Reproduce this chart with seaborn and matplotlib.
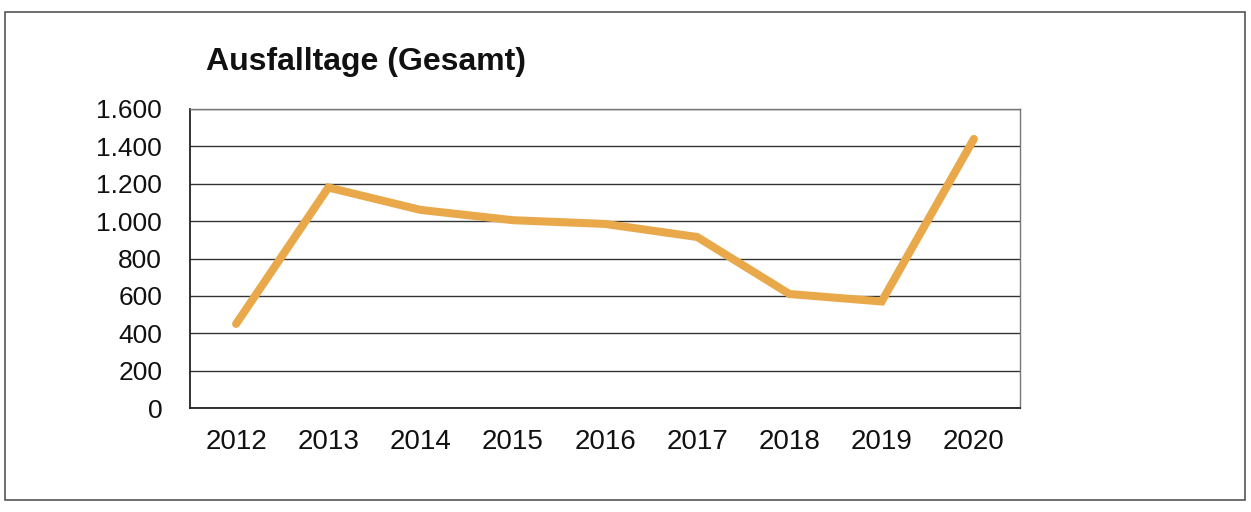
import matplotlib
matplotlib.use("Agg")
import matplotlib.pyplot as plt
import seaborn as sns
import pandas as pd
import numpy as np
from matplotlib.patches import Rectangle

# ---- data ----
years = ["2012", "2013", "2014", "2015", "2016", "2017", "2018", "2019", "2020"]
ausfalltage = [450, 1180, 1060, 1005, 985, 915, 610, 570, 1440]
y_ticks = [0, 200, 400, 600, 800, 1000, 1200, 1400, 1600]
y_labels = ["0", "200", "400", "600", "800", "1.000", "1.200", "1.400", "1.600"]
title = "Ausfalltage (Gesamt)"

sns.set_style("white")
plt.rcParams["font.family"] = ["Liberation Sans", "DejaVu Sans"]

W, H = 1251, 512
fig = plt.figure(figsize=(W / 100, H / 100), dpi=100)
fig.patch.set_facecolor("white")

# outer frame of the scanned chart
fig.add_artist(Rectangle((5 / W, 1 - 500 / H), 1240 / W, 488 / H,
                         transform=fig.transFigure, fill=False,
                         edgecolor="#555555", linewidth=1.2))

ax = fig.add_axes([190 / W, 1 - 408 / H, 830 / W, 299 / H])

df = pd.DataFrame({"Jahr": years, "Ausfalltage": ausfalltage})
sns.lineplot(data=df, x="Jahr", y="Ausfalltage", ax=ax, color="#E9A94B",
             linewidth=5.8, solid_capstyle="round", solid_joinstyle="miter",
             sort=False, zorder=3)

ax.set_xlim(-0.5, len(years) - 0.5)
ax.set_ylim(0, 1600)
ax.set_yticks(y_ticks)
ax.set_yticklabels(y_labels)
ax.set_xlabel("")
ax.set_ylabel("")

# gridlines
ax.yaxis.grid(True, color="#333333", linewidth=1.0)
ax.xaxis.grid(False)
ax.set_axisbelow(True)

# spines
for s in ["left", "bottom"]:
    ax.spines[s].set_color("#222222")
    ax.spines[s].set_linewidth(1.3)
for s in ["top", "right"]:
    ax.spines[s].set_color("#777777")
    ax.spines[s].set_linewidth(1.0)
    ax.spines[s].set_visible(True)

# tick marks: y ticks outward, x tick marks between categories
ax.tick_params(axis="y", which="major", length=6, width=1, color="#222222",
               direction="out", pad=14, labelsize=19, labelcolor="#111111")
ax.set_xticks(np.arange(len(years)))
ax.set_xticklabels(years)
ax.tick_params(axis="x", which="major", length=0, pad=15, labelsize=20,
               labelcolor="#111111")
ax.set_xticks(np.arange(-0.5, len(years), 1.0), minor=True)
ax.tick_params(axis="x", which="minor", length=6, width=1, color="#222222",
               direction="out")

fig.text(206 / W, 1 - 62 / H, title, fontsize=23, fontweight="bold",
         ha="left", va="center", color="#111111")

fig.savefig("out.png", dpi=100, facecolor="white")
